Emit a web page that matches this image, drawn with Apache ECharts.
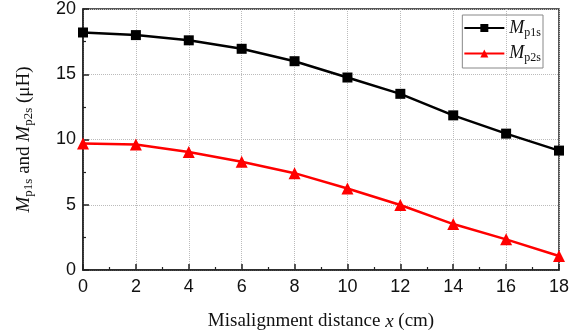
<!DOCTYPE html>
<html>
<head>
<meta charset="utf-8">
<script src="https://cdn.jsdelivr.net/npm/echarts@6/dist/echarts.min.js"></script>
<style>
  html, body { margin: 0; padding: 0; background: #fff; }
  #chart { width: 581px; height: 336px; }
</style>
</head>
<body>
<div id="chart"></div>
<script>
// misalignment distance (cm)
const distances = [0, 2, 4, 6, 8, 10, 12, 14, 16, 18];
// mutual inductance (uH)
const mp1s = [18.2, 18.0, 17.6, 16.95, 16.0, 14.75, 13.5, 11.85, 10.45, 9.15];
const mp2s = [9.7, 9.62, 9.05, 8.3, 7.42, 6.25, 4.98, 3.52, 2.35, 1.07];
const yTicks = [0, 5, 10, 15, 20];

const chart = echarts.init(document.getElementById('chart'));

const serif = '"Liberation Serif", "Times New Roman", serif';
const sans = '"Liberation Sans", Arial, sans-serif';

const subRich = {
  m: { fontFamily: serif, fontStyle: 'italic', fontSize: 19, color: '#111' },
  sub: { fontFamily: serif, fontSize: 13, color: '#111', padding: [9, 0, 0, 0] },
  t: { fontFamily: serif, fontSize: 19, color: '#111' }
};

const legendRich = {
  m: { fontFamily: serif, fontStyle: 'italic', fontSize: 18, color: '#111' },
  sub: { fontFamily: serif, fontSize: 12, color: '#111', padding: [9, 0, 0, 0] }
};

const option = {
  animation: false,
  grid: {
    left: 83, right: 22, top: 9, bottom: 66,
    show: true, borderColor: '#222', borderWidth: 1.5, backgroundColor: 'transparent'
  },
  legend: {
    right: 38, top: 15,
    orient: 'vertical',
    itemWidth: 40, itemHeight: 10, itemGap: 6,
    borderColor: '#888', borderWidth: 1, borderRadius: 0,
    padding: [4, 2, 4, 1],
    data: ['Mp1s', 'Mp2s'],
    formatter: function (name) {
      return '{m|M}{sub|' + name.slice(1) + '}';
    },
    textStyle: { rich: legendRich }
  },
  xAxis: {
    type: 'value', min: 0, max: 18, interval: 2,
    name: '{t|Misalignment distance }{m|x}{t| (cm)}',
    nameLocation: 'middle', nameGap: 42,
    nameTextStyle: { rich: subRich },
    axisLine: { onZero: false, lineStyle: { color: '#222', width: 1.5 } },
    axisTick: { inside: true, length: 6, lineStyle: { color: '#222', width: 1.5 } },
    minorTick: { show: true, splitNumber: 2, length: 3, lineStyle: { color: '#222', width: 1.2 } },
    axisLabel: { fontFamily: sans, fontSize: 18, color: '#111', margin: 8 },
    splitLine: { show: true, lineStyle: { color: '#bbb', type: 'dotted', width: 1 } }
  },
  yAxis: {
    type: 'value', min: yTicks[0], max: yTicks[yTicks.length - 1], interval: 5,
    name: '{m|M}{sub|p1s}{t| and }{m|M}{sub|p2s}{t| (μH)}',
    nameLocation: 'middle', nameGap: 48, nameRotate: 90,
    nameTextStyle: { rich: subRich },
    axisLine: { show: true, lineStyle: { color: '#222', width: 1.5 } },
    axisTick: { inside: true, length: 6, lineStyle: { color: '#222', width: 1.5 } },
    minorTick: { show: true, splitNumber: 2, length: 3, lineStyle: { color: '#222', width: 1.2 } },
    axisLabel: { fontFamily: sans, fontSize: 18, color: '#111', margin: 7 },
    splitLine: { show: true, lineStyle: { color: '#bbb', type: 'dotted', width: 1 } }
  },
  series: [
    {
      name: 'Mp1s', type: 'line',
      data: distances.map((x, i) => [x, mp1s[i]]),
      symbol: 'rect', symbolSize: 10,
      lineStyle: { color: '#000', width: 2.5 },
      itemStyle: { color: '#000' }
    },
    {
      name: 'Mp2s', type: 'line',
      data: distances.map((x, i) => [x, mp2s[i]]),
      symbol: 'triangle', symbolSize: 12,
      lineStyle: { color: '#f00', width: 2.5 },
      itemStyle: { color: '#f00' }
    }
  ]
};

chart.setOption(option);
</script>
</body>
</html>
